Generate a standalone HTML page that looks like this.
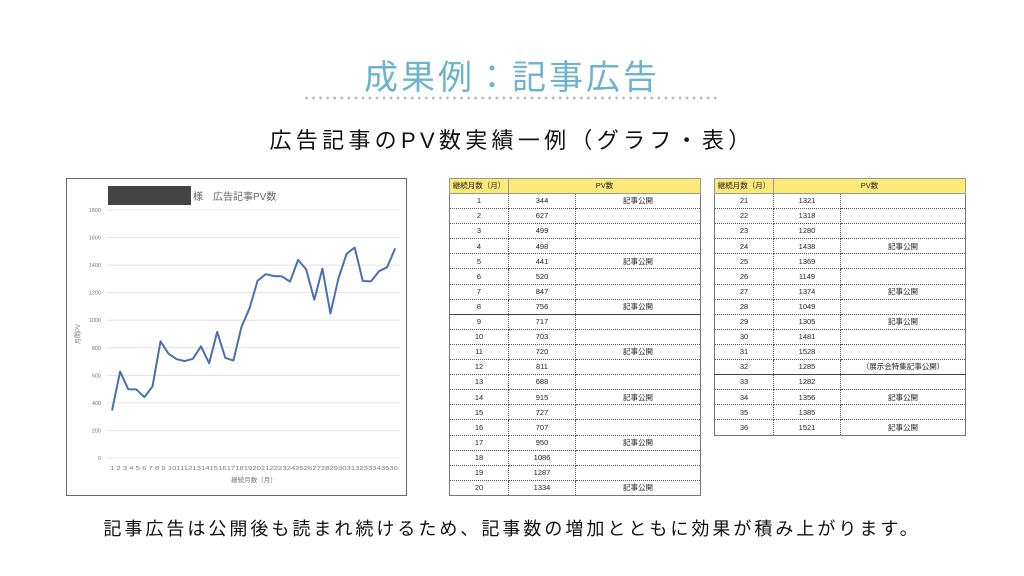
<!DOCTYPE html>
<html><head><meta charset="utf-8"><style>
body{margin:0;width:1024px;height:576px;background:#fff;position:relative;overflow:hidden;font-family:"Liberation Sans","Noto Sans CJK JP",sans-serif}
.t{position:absolute;left:0;width:1024px;text-align:center}
table{position:absolute;border-collapse:collapse;table-layout:fixed;font-size:7.5px;color:#222}
td{border:1px dotted #555;height:14.1px;padding:0;text-align:center;line-height:1}
tr.h td{background:#fde97a;border:1px solid #999;height:14px}
tr.s td{border-top:1px solid #444}
table{border:1px solid #777}
</style></head><body>
<div class="t" style="top:50px;font-size:34px;color:#6db3d0;letter-spacing:3px">成果例：記事広告</div>
<div style="position:absolute;left:303px;top:96px;width:416px;height:4px;background:radial-gradient(circle,#bbb 1.3px,transparent 1.6px) 0 0/7.05px 4px repeat-x"></div>
<div class="t" style="top:123px;font-size:22px;color:#111;letter-spacing:4.3px">広告記事のPV数実績一例（グラフ・表）</div>
<div class="t" style="top:515px;font-size:18px;color:#111;letter-spacing:3px">記事広告は公開後も読まれ続けるため、記事数の増加とともに効果が積み上がります。</div>

<svg style="position:absolute;left:0;top:0" width="1024" height="576">
<rect x="66.5" y="178.5" width="340" height="317" fill="#fff" stroke="#666"/>
<rect x="108" y="186" width="83" height="19" fill="#444"/>
<text x="193" y="200" font-size="10" fill="#666" font-family="Liberation Sans,Noto Sans CJK JP,sans-serif">様　広告記事PV数</text>
<g stroke="#ddd" stroke-width="0.8">
<line x1="107" x2="400" y1="458" y2="458"/><line x1="107" x2="400" y1="430.4" y2="430.4"/><line x1="107" x2="400" y1="402.9" y2="402.9"/><line x1="107" x2="400" y1="375.3" y2="375.3"/><line x1="107" x2="400" y1="347.8" y2="347.8"/><line x1="107" x2="400" y1="320.2" y2="320.2"/><line x1="107" x2="400" y1="292.7" y2="292.7"/><line x1="107" x2="400" y1="265.1" y2="265.1"/><line x1="107" x2="400" y1="237.6" y2="237.6"/><line x1="107" x2="400" y1="210" y2="210"/>
</g>
<g font-size="5.5" fill="#777" text-anchor="end" font-family="Liberation Sans,sans-serif">
<text x="101" y="460">0</text><text x="101" y="432.4">200</text><text x="101" y="404.9">400</text><text x="101" y="377.3">600</text><text x="101" y="349.8">800</text><text x="101" y="322.2">1000</text><text x="101" y="294.7">1200</text><text x="101" y="267.1">1400</text><text x="101" y="239.6">1600</text><text x="101" y="212">1800</text>
</g>
<text x="80" y="334" font-size="6" fill="#777" transform="rotate(-90 80 334)" text-anchor="middle" font-family="Liberation Sans,Noto Sans CJK JP,sans-serif">月間PV</text>
<text x="254" y="470" font-size="5.6" fill="#777" text-anchor="middle" textLength="288" lengthAdjust="spacingAndGlyphs" font-family="Liberation Sans,sans-serif">1 2 3 4 5 6 7 8 9 101112131415161718192021222324252627282930313233343536</text>
<text x="254" y="482" font-size="6.5" fill="#777" text-anchor="middle" font-family="Liberation Sans,Noto Sans CJK JP,sans-serif">継続月数（月）</text>
<polyline fill="none" stroke="#4a6fb5" stroke-width="2" stroke-linejoin="round" points="112,410.6 120.1,371.6 128.2,389.2 136.3,389.4 144.4,397.2 152.5,386.4 160.5,341.3 168.6,353.8 176.7,359.2 184.8,361.1 192.9,358.8 201,346.3 209.1,363.2 217.2,331.9 225.3,357.8 233.4,360.6 241.4,327.1 249.5,308.4 257.6,280.7 265.7,274.2 273.8,276 281.9,276.4 290,281.6 298.1,259.9 306.2,269.4 314.3,299.7 322.4,268.7 330.4,313.5 338.5,278.2 346.6,253.9 354.7,247.5 362.8,281 370.9,281.4 379,271.2 387.1,267.2 395.2,248.4"/>
</svg>

<table style="left:449px;top:178px;width:252px">
<colgroup><col style="width:59px"><col style="width:67px"><col></colgroup>
<tr class="h"><td>継続月数（月）</td><td colspan="2">PV数</td></tr>
<tr><td>1</td><td>344</td><td>記事公開</td></tr>
<tr><td>2</td><td>627</td><td></td></tr>
<tr><td>3</td><td>499</td><td></td></tr>
<tr><td>4</td><td>498</td><td></td></tr>
<tr><td>5</td><td>441</td><td>記事公開</td></tr>
<tr><td>6</td><td>520</td><td></td></tr>
<tr><td>7</td><td>847</td><td></td></tr>
<tr><td>8</td><td>756</td><td>記事公開</td></tr>
<tr class="s"><td>9</td><td>717</td><td></td></tr>
<tr><td>10</td><td>703</td><td></td></tr>
<tr><td>11</td><td>720</td><td>記事公開</td></tr>
<tr><td>12</td><td>811</td><td></td></tr>
<tr><td>13</td><td>688</td><td></td></tr>
<tr><td>14</td><td>915</td><td>記事公開</td></tr>
<tr><td>15</td><td>727</td><td></td></tr>
<tr><td>16</td><td>707</td><td></td></tr>
<tr><td>17</td><td>950</td><td>記事公開</td></tr>
<tr><td>18</td><td>1086</td><td></td></tr>
<tr><td>19</td><td>1287</td><td></td></tr>
<tr><td>20</td><td>1334</td><td>記事公開</td></tr>
</table>

<table style="left:714px;top:178px;width:252px">
<colgroup><col style="width:59px"><col style="width:67px"><col></colgroup>
<tr class="h"><td>継続月数（月）</td><td colspan="2">PV数</td></tr>
<tr><td>21</td><td>1321</td><td></td></tr>
<tr><td>22</td><td>1318</td><td></td></tr>
<tr><td>23</td><td>1280</td><td></td></tr>
<tr><td>24</td><td>1438</td><td>記事公開</td></tr>
<tr><td>25</td><td>1369</td><td></td></tr>
<tr><td>26</td><td>1149</td><td></td></tr>
<tr><td>27</td><td>1374</td><td>記事公開</td></tr>
<tr><td>28</td><td>1049</td><td></td></tr>
<tr><td>29</td><td>1305</td><td>記事公開</td></tr>
<tr><td>30</td><td>1481</td><td></td></tr>
<tr><td>31</td><td>1528</td><td></td></tr>
<tr><td>32</td><td>1285</td><td>（展示会特集記事公開）</td></tr>
<tr class="s"><td>33</td><td>1282</td><td></td></tr>
<tr><td>34</td><td>1356</td><td>記事公開</td></tr>
<tr><td>35</td><td>1385</td><td></td></tr>
<tr><td>36</td><td>1521</td><td>記事公開</td></tr>
</table>
</body></html>
